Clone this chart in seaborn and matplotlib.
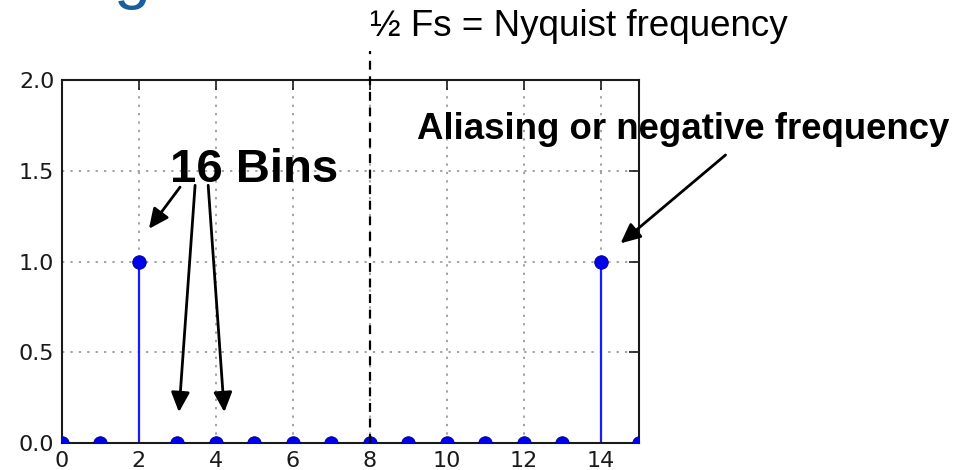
import numpy as np
import matplotlib
matplotlib.use("Agg")
import matplotlib.pyplot as plt
import pandas as pd
import seaborn as sns

# DFT magnitude per bin (16-point transform of a 2-cycle tone)
bins = [0, 1, 2, 3, 4, 5, 6, 7, 8, 9, 10, 11, 12, 13, 14, 15]
magnitude = [0, 0, 1.0, 0, 0, 0, 0, 0, 0, 0, 0, 0, 0, 0, 1.0, 0]
nyquist_bin = 8
x_ticks = [0, 2, 4, 6, 8, 10, 12, 14]
y_ticks = [0.0, 0.5, 1.0, 1.5, 2.0]
y_tick_labels = ["0.0", "0.5", "1.0", "1.5", "2.0"]

df = pd.DataFrame({"bin": bins, "magnitude": magnitude})

sns.set_style("white")
plt.rcParams["font.family"] = ["DejaVu Sans"]
plt.rcParams["text.color"] = "black"

W, H = 971, 470
fig = plt.figure(figsize=(W / 100, H / 100), dpi=100)
ax = fig.add_axes([62 / W, 1 - 443 / H, 577 / W, 363 / H])

# stems and baseline
ax.vlines(df["bin"], 0, df["magnitude"], colors="#1a1aff", lw=1.6, zorder=2)
ax.axhline(0, color="#d63a3a", lw=1.2, zorder=2)
sns.scatterplot(data=df, x="bin", y="magnitude", ax=ax, color="#0000ee",
                s=95, edgecolor="#000080", linewidth=0.6, zorder=3, legend=False)

ax.set_xlim(0, 15)
ax.set_ylim(0, 2.0)
ax.set_xticks(x_ticks)
ax.set_xticklabels([str(t) for t in x_ticks])
ax.set_yticks(y_ticks)
ax.set_yticklabels(y_tick_labels)
ax.set_xlabel("")
ax.set_ylabel("")

ax.grid(True, color="#8a8a8a", linestyle=(0, (1.5, 4)), lw=1.1, zorder=1)
for s in ax.spines.values():
    s.set_color("#1a1a1a")
    s.set_linewidth(1.5)
ax.tick_params(direction="in", length=7, width=1.2, color="#1a1a1a",
               top=True, right=True, labelsize=16, labelcolor="#1a1a1a")
ax.tick_params(axis="x", pad=6)
ax.tick_params(axis="y", pad=5.5)

# Nyquist marker, running up past the frame
ax.plot([nyquist_bin, nyquist_bin], [0, 2.16], color="black", lw=1.6,
        linestyle=(0, (4, 3)), clip_on=False, zorder=4)

ann_font = ["Liberation Sans", "DejaVu Sans"]
ax.text(nyquist_bin, 2.245, "\u00bd Fs = Nyquist frequency", fontsize=26.5,
        family=ann_font, color="black", ha="left", va="baseline", clip_on=False)
ax.text(2.81, 1.438, "16 Bins", fontsize=34, fontweight="bold",
        family=ann_font, color="black", ha="left", va="baseline", clip_on=False)
ax.text(9.24, 1.675, "Aliasing or negative frequency", fontsize=26.4,
        fontweight="bold", family=ann_font, color="black", ha="left",
        va="baseline", clip_on=False)

arrow = dict(arrowstyle="-|>,head_length=0.6,head_width=0.28",
             mutation_scale=20, color="black", lw=2.0,
             shrinkA=0, shrinkB=0)
for tail, head in [((3.07, 1.41), (2.26, 1.18)),
                   ((3.46, 1.42), (3.04, 0.17)),
                   ((3.80, 1.42), (4.22, 0.17)),
                   ((17.25, 1.587), (14.52, 1.10))]:
    ax.annotate("", xy=head, xytext=tail, xycoords="data",
                textcoords="data", arrowprops=arrow, annotation_clip=False)

# descender of the slide heading above the chart
fig.text(113 / W, 1 + 4 / H, "g", fontsize=48, color="#1b5e9e",
         family=ann_font, ha="left", va="baseline")

fig.savefig("out.png", dpi=100)
